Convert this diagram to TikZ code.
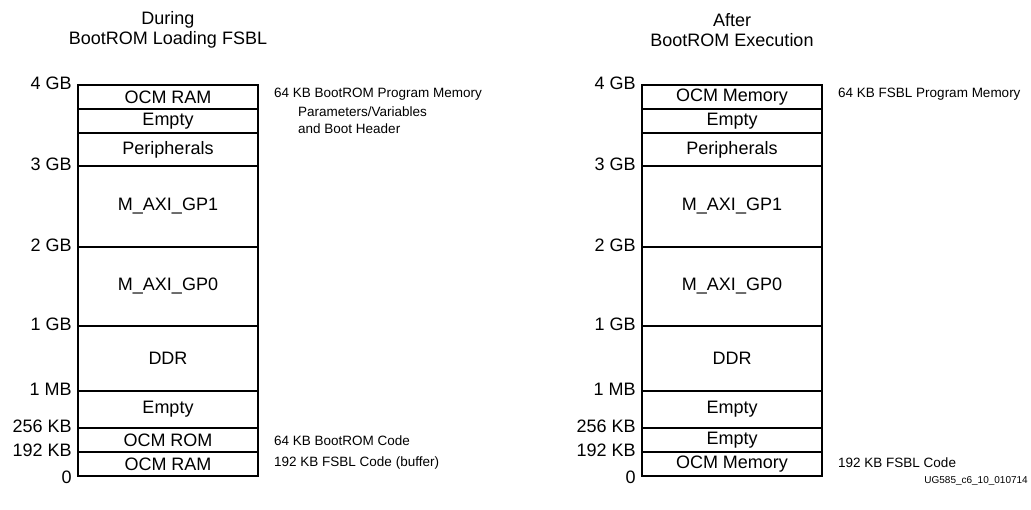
\documentclass[tikz,border=0pt]{standalone}
\usepackage{fontspec}
\setmainfont{Liberation Sans}
\usetikzlibrary{positioning}

\tikzset{
  seg/.style={draw, line width=2.4pt, minimum width=180pt, inner sep=0pt,
    font=\fontsize{18}{20}\selectfont},
  addr/.style={anchor=east, inner sep=0pt, xshift=-5pt, font=\fontsize{18}{20}\selectfont},
  note/.style={anchor=west, inner sep=0pt, font=\fontsize{13.5}{15}\selectfont},
  coltitle/.style={align=center, inner sep=0pt, font=\fontsize{18}{20}\selectfont}
}

\begin{document}
\begin{tikzpicture}[x=1pt, y=-1pt]
  \useasboundingbox (0,0) rectangle (1031,510);

  % column titles
  \node[coltitle] (ltitle) at (168,30) {During\\BootROM Loading FSBL};
  \node[coltitle] (rtitle) at (732,30) {After\\BootROM Execution};

  % left map: during BootROM loading the FSBL
  \node[seg, minimum height=24pt] (l1) at (168,97) {OCM RAM};
  \node[seg, minimum height=24pt] (l2) at (168,121) {Empty};
  \node[seg, minimum height=33pt] (l3) at (168,149.5) {Peripherals};
  \node[seg, minimum height=81pt] (l4) at (168,206.5) {M\_AXI\_GP1};
  \node[seg, minimum height=79pt] (l5) at (168,286.5) {M\_AXI\_GP0};
  \node[seg, minimum height=65pt] (l6) at (168,358.5) {DDR};
  \node[seg, minimum height=37pt] (l7) at (168,409.5) {Empty};
  \node[seg, minimum height=24pt] (l8) at (168,440) {OCM ROM};
  \node[seg, minimum height=24pt] (l9) at (168,464) {OCM RAM};

  % right map: after BootROM execution
  \node[seg, minimum height=24pt] (r1) at (732,97) {OCM Memory};
  \node[seg, minimum height=24pt] (r2) at (732,121) {Empty};
  \node[seg, minimum height=33pt] (r3) at (732,149.5) {Peripherals};
  \node[seg, minimum height=81pt] (r4) at (732,206.5) {M\_AXI\_GP1};
  \node[seg, minimum height=79pt] (r5) at (732,286.5) {M\_AXI\_GP0};
  \node[seg, minimum height=65pt] (r6) at (732,358.5) {DDR};
  \node[seg, minimum height=37pt] (r7) at (732,409.5) {Empty};
  \node[seg, minimum height=24pt] (r8) at (732,440) {Empty};
  \node[seg, minimum height=24pt] (r9) at (732,464) {OCM Memory};

  % address marks, same for both maps
  \foreach \c in {l,r} {
    \node[addr] at (\c1.north west) {4 GB};
    \node[addr] at (\c4.north west) {3 GB};
    \node[addr] at (\c5.north west) {2 GB};
    \node[addr] at (\c6.north west) {1 GB};
    \node[addr] at (\c7.north west) {1 MB};
    \node[addr] at (\c8.north west) {256 KB};
    \node[addr] at (\c9.north west) {192 KB};
    \node[addr] at (\c9.south west) {0};
  }

  % notes on the right of each map
  \node[note] (lnotea) at (274,94) {64 KB BootROM Program Memory};
  \node[note] (lnoteb) at (298,111.5) {Parameters/Variables};
  \node[note] (lnotec) at (298,129) {and Boot Header};
  \node[note] (lnoted) at (274,441) {64 KB BootROM Code};
  \node[note] (lnotee) at (274,463) {192 KB FSBL Code (buffer)};
  \node[note] (rnotea) at (838,94) {64 KB FSBL Program Memory};
  \node[note] (rnoteb) at (838,463) {192 KB FSBL Code};

  \node[anchor=east, inner sep=0pt, font=\fontsize{10}{12}\selectfont] (figid) at (1028,481) {UG585\_c6\_10\_010714};
\end{tikzpicture}
\end{document}
